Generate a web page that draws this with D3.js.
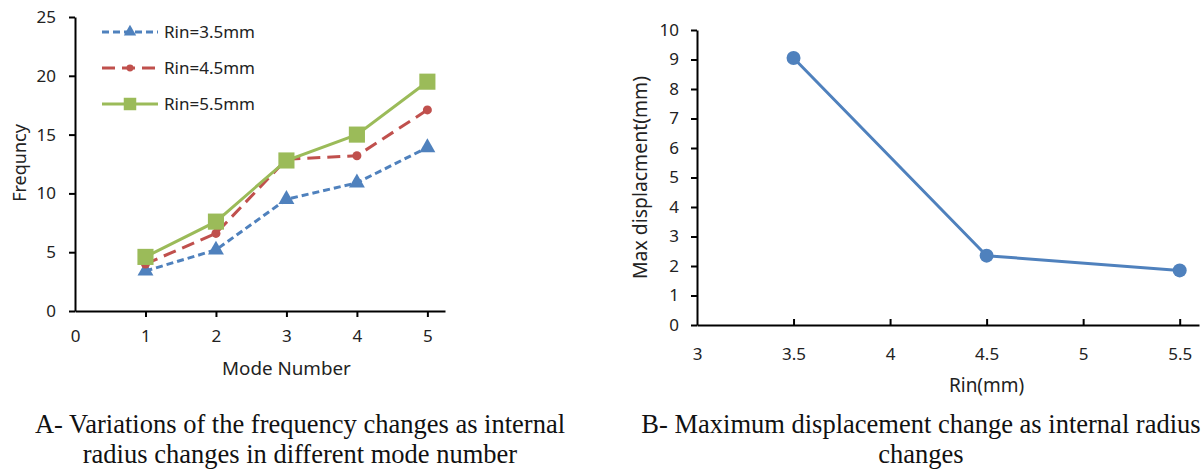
<!DOCTYPE html>
<html>
<head>
<meta charset="utf-8">
<script src="https://cdn.jsdelivr.net/npm/d3@7"></script>
<style>
  body { margin: 0; background: #fff; }
  svg text { font-family: "Noto Sans", "Open Sans", sans-serif; fill: #222; }
  .caption { font-family: "Liberation Serif", "Times New Roman", serif !important; font-size: 26.5px; fill: #111 !important; }
</style>
</head>
<body>
<svg id="fig" width="1202" height="469"></svg>
<script>
// Chart A data: frequency by mode number for each internal radius
var modes = [1, 2, 3, 4, 5];
var seriesNames = ['Rin=3.5mm', 'Rin=4.5mm', 'Rin=5.5mm'];
var freqRin35 = [3.4, 5.2, 9.5, 10.9, 13.9];
var freqRin45 = [4.0, 6.6, 12.9, 13.2, 17.1];
var freqRin55 = [4.6, 7.6, 12.8, 15.0, 19.5];
var modeTicks = [0, 1, 2, 3, 4, 5];
var freqTicks = [0, 5, 10, 15, 20, 25];

// Chart B data: max displacement vs internal radius
var rinValues = [3.5, 4.5, 5.5];
var maxDisp = [9.05, 2.35, 1.85];
var rinTicks = [3, 3.5, 4, 4.5, 5, 5.5];
var dispTicks = [0, 1, 2, 3, 4, 5, 6, 7, 8, 9, 10];

var svg = d3.select('#fig');
var tickFont = 17;

// ---------- Chart A ----------
var xA = d3.scaleLinear().domain([0, 5.25]).range([75, 445]);
var yA = d3.scaleLinear().domain([0, 25]).range([311, 17]);

var gA = svg.append('g');

gA.append('g')
  .attr('transform', 'translate(0,' + yA(0) + ')')
  .call(d3.axisBottom(xA).tickValues(modeTicks).tickSize(6).tickSizeOuter(0).tickPadding(13).tickFormat(d3.format('d')))
  .call(function(g){ g.selectAll('text').attr('font-size', tickFont).attr('font-family', null); })
  .call(function(g){ g.selectAll('path,line').attr('stroke', '#000').attr('stroke-width', 2); })
  .call(function(g){ g.selectAll('.tick').filter(function(d){ return d === 0; }).select('line').remove(); });

gA.append('g')
  .attr('transform', 'translate(' + xA(0) + ',0)')
  .call(d3.axisLeft(yA).tickValues(freqTicks).tickSize(6).tickSizeOuter(0).tickPadding(13))
  .call(function(g){ g.selectAll('text').attr('font-size', tickFont).attr('font-family', null); })
  .call(function(g){ g.selectAll('path,line').attr('stroke', '#000').attr('stroke-width', 2); });

gA.append('text')
  .attr('x', xA(3)).attr('y', 375)
  .attr('text-anchor', 'middle').attr('font-size', 18.8)
  .text('Mode Number');

gA.append('text')
  .attr('transform', 'translate(26,' + 163 + ') rotate(-90)')
  .attr('text-anchor', 'middle').attr('font-size', 18)
  .text('Frequncy');

var seriesA = [
  { name: seriesNames[0], values: freqRin35, color: '#4F81BD', dash: '7,4', marker: 'triangle', size: 110 },
  { name: seriesNames[1], values: freqRin45, color: '#C0504D', dash: '13,7', marker: 'circle', size: 64 },
  { name: seriesNames[2], values: freqRin55, color: '#9BBB59', dash: null, marker: 'square', size: 260 }
];
var symbolType = { triangle: d3.symbolTriangle, circle: d3.symbolCircle, square: d3.symbolSquare };

var lineA = d3.line()
  .x(function(d, i){ return xA(modes[i]); })
  .y(function(d){ return yA(d); });

seriesA.forEach(function(s){
  gA.append('path')
    .attr('d', lineA(s.values))
    .attr('fill', 'none')
    .attr('stroke', s.color)
    .attr('stroke-width', 3)
    .attr('stroke-dasharray', s.dash);
  gA.selectAll(null)
    .data(s.values)
    .enter().append('path')
      .attr('transform', function(d, i){ return 'translate(' + xA(modes[i]) + ',' + yA(d) + ')'; })
      .attr('d', d3.symbol().type(symbolType[s.marker]).size(s.size))
      .attr('fill', s.color);
});

// Legend
var legendX = 102, legendLen = 56;
seriesA.forEach(function(s, i){
  var ly = 32 + i * 36;
  gA.append('line')
    .attr('x1', legendX).attr('x2', legendX + legendLen)
    .attr('y1', ly).attr('y2', ly)
    .attr('stroke', s.color).attr('stroke-width', 3)
    .attr('stroke-dasharray', s.dash);
  gA.append('path')
    .attr('transform', 'translate(' + (legendX + legendLen / 2) + ',' + ly + ')')
    .attr('d', d3.symbol().type(symbolType[s.marker]).size(s.size * 0.6))
    .attr('fill', s.color);
  gA.append('text')
    .attr('x', legendX + legendLen + 6).attr('y', ly + 6)
    .attr('font-size', 17)
    .text(s.name);
});

// ---------- Chart B ----------
var xB = d3.scaleLinear().domain([3, 5.6]).range([697, 1199]);
var yB = d3.scaleLinear().domain([0, 10]).range([325, 30]);

var gB = svg.append('g');

gB.append('g')
  .attr('transform', 'translate(0,' + yB(0) + ')')
  .call(d3.axisBottom(xB).tickValues(rinTicks).tickSize(-6).tickSizeOuter(0).tickPadding(23).tickFormat(function(d){ return d; }))
  .call(function(g){ g.selectAll('text').attr('font-size', tickFont).attr('font-family', null); })
  .call(function(g){ g.selectAll('path,line').attr('stroke', '#000').attr('stroke-width', 2); })
  .call(function(g){ g.selectAll('.tick').filter(function(d){ return d === 3; }).select('line').remove(); });

gB.append('g')
  .attr('transform', 'translate(' + xB(3) + ',0)')
  .call(d3.axisLeft(yB).tickValues(dispTicks).tickSize(6).tickSizeOuter(0).tickPadding(12))
  .call(function(g){ g.selectAll('text').attr('font-size', tickFont).attr('font-family', null); })
  .call(function(g){ g.selectAll('path,line').attr('stroke', '#000').attr('stroke-width', 2); });

gB.append('text')
  .attr('x', xB(4.5)).attr('y', 392)
  .attr('text-anchor', 'middle').attr('font-size', 19)
  .text('Rin(mm)');

gB.append('text')
  .attr('transform', 'translate(647,' + yB(5) + ') rotate(-90)')
  .attr('text-anchor', 'middle').attr('font-size', 19.4)
  .text('Max displacment(mm)');

var lineB = d3.line()
  .x(function(d, i){ return xB(rinValues[i]); })
  .y(function(d){ return yB(d); });

gB.append('path')
  .attr('d', lineB(maxDisp))
  .attr('fill', 'none')
  .attr('stroke', '#4F81BD')
  .attr('stroke-width', 3);

gB.selectAll(null)
  .data(maxDisp)
  .enter().append('circle')
    .attr('cx', function(d, i){ return xB(rinValues[i]); })
    .attr('cy', function(d){ return yB(d); })
    .attr('r', 7)
    .attr('fill', '#4F81BD');

// ---------- Captions ----------
var captions = [
  { x: 300, lines: ['A- Variations of the frequency changes as internal', 'radius changes in different mode number'] },
  { x: 921, lines: ['B- Maximum displacement change as internal radius', 'changes'] }
];
captions.forEach(function(c){
  c.lines.forEach(function(t, i){
    svg.append('text')
      .attr('class', 'caption')
      .attr('x', c.x).attr('y', 433 + i * 30)
      .attr('text-anchor', 'middle')
      .text(t);
  });
});
</script>
</body>
</html>
